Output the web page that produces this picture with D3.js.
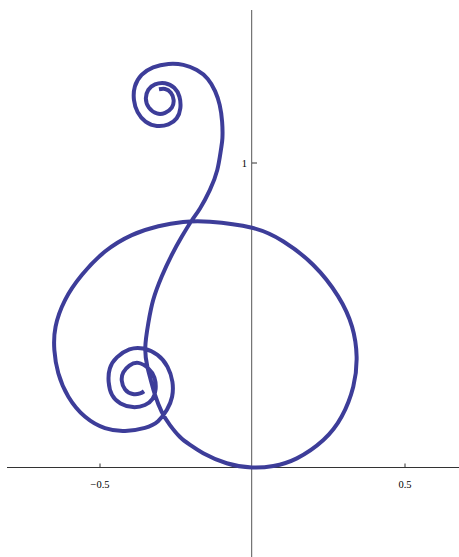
<!DOCTYPE html>
<html>
<head>
<meta charset="utf-8">
<script src="https://cdn.jsdelivr.net/npm/d3@7"></script>
<style>
  body { margin: 0; background: #fff; }
  svg { display: block; }
  .tick text { font-family: "Liberation Serif", "Times New Roman", serif; font-size: 10.5px; fill: #000; }
</style>
</head>
<body>
<script>
// curve, data units, in drawing order
const upperSpiral = [
  [-0.305, 1.240], [-0.285, 1.241], [-0.266, 1.229], [-0.257, 1.205], [-0.263, 1.180],
  [-0.285, 1.163], [-0.312, 1.161], [-0.338, 1.180], [-0.348, 1.210], [-0.340, 1.238],
  [-0.318, 1.256], [-0.285, 1.260], [-0.255, 1.245], [-0.238, 1.216], [-0.235, 1.178],
  [-0.247, 1.145], [-0.274, 1.125], [-0.312, 1.120], [-0.349, 1.134], [-0.375, 1.165],
  [-0.387, 1.205], [-0.384, 1.249], [-0.362, 1.287], [-0.324, 1.312], [-0.274, 1.323],
  [-0.225, 1.320], [-0.181, 1.303], [-0.145, 1.274], [-0.121, 1.234], [-0.106, 1.189],
  [-0.098, 1.134], [-0.097, 1.080],
]
const stem = [
  [-0.102, 1.041], [-0.114, 0.975], [-0.138, 0.910], [-0.170, 0.850], [-0.198, 0.809],
  [-0.230, 0.757], [-0.263, 0.697], [-0.296, 0.626], [-0.324, 0.549], [-0.340, 0.473],
  [-0.350, 0.392], [-0.343, 0.330], [-0.332, 0.287], [-0.318, 0.238], [-0.296, 0.182],
  [-0.269, 0.139], [-0.236, 0.100], [-0.203, 0.074], [-0.160, 0.047], [-0.083, 0.014],
  [0, 0],
]
const bigLoop = [
  [0.070, 0.005], [0.147, 0.030], [0.234, 0.090], [0.294, 0.167], [0.332, 0.265],
  [0.343, 0.363], [0.328, 0.462], [0.282, 0.562], [0.201, 0.664], [0.103, 0.741],
  [0, 0.786], [-0.138, 0.806], [-0.226, 0.805], [-0.307, 0.791], [-0.394, 0.762],
  [-0.482, 0.708], [-0.558, 0.631], [-0.613, 0.549], [-0.644, 0.462], [-0.648, 0.385],
  [-0.635, 0.309], [-0.602, 0.232], [-0.548, 0.167], [-0.482, 0.129], [-0.416, 0.120],
]
const lowerSpiral = [
  [-0.351, 0.130], [-0.308, 0.152], [-0.279, 0.189], [-0.262, 0.232], [-0.261, 0.281],
  [-0.277, 0.330], [-0.310, 0.369], [-0.357, 0.390], [-0.402, 0.387], [-0.443, 0.361],
  [-0.466, 0.325], [-0.470, 0.281], [-0.459, 0.238], [-0.431, 0.210], [-0.390, 0.198],
  [-0.351, 0.205], [-0.326, 0.225], [-0.316, 0.257], [-0.320, 0.295], [-0.340, 0.325],
  [-0.373, 0.343], [-0.402, 0.334], [-0.422, 0.312], [-0.427, 0.285], [-0.416, 0.256],
  [-0.391, 0.241], [-0.367, 0.243], [-0.354, 0.250],
]
const xTicks = [-0.5, 0.5]
const yTicks = [1]

const width = 459
const height = 557

const x = d3.scaleLinear().domain([-0.5, 0.5]).range([99.5, 404.5])
const y = d3.scaleLinear().domain([0, 1]).range([467.5, 162.5])

const svg = d3
  .select('body')
  .append('svg')
  .attr('width', width)
  .attr('height', height)

// axes through the origin, ticks pointing inwards like Mathematica
const xAxis = g =>
  g
    .attr('transform', `translate(0,${y(0)})`)
    .call(
      d3
        .axisTop(x)
        .tickValues(xTicks)
        .tickSize(4)
        .tickFormat(d3.format('.1f')),
    )
    .call(g => g.select('.domain').remove())
    .call(g => g.selectAll('.tick text').attr('y', 20).attr('dy', 0))

const yAxis = g =>
  g
    .attr('transform', `translate(${x(0)},0)`)
    .call(
      d3
        .axisLeft(y)
        .tickValues(yTicks)
        .tickSize(-5)
        .tickFormat(d3.format('d')),
    )
    .call(g => g.select('.domain').remove())
    .call(g => g.selectAll('.tick text').attr('x', -5).attr('dy', '0.35em'))

svg
  .append('line')
  .attr('x1', 7)
  .attr('x2', width)
  .attr('y1', y(0))
  .attr('y2', y(0))
  .attr('stroke', '#333')

svg
  .append('line')
  .attr('x1', x(0) - 0.3)
  .attr('x2', x(0) - 0.3)
  .attr('y1', 10)
  .attr('y2', height)
  .attr('stroke', '#555')

svg.append('g').call(xAxis)
svg.append('g').call(yAxis)
svg.selectAll('.tick line').attr('stroke', '#333')

const points = [...upperSpiral, ...stem, ...bigLoop, ...lowerSpiral]

// natural spline keeps the hand-read points on a smooth track
const line = d3
  .line()
  .x(d => x(d[0]))
  .y(d => y(d[1]))
  .curve(d3.curveNatural)

svg
  .append('path')
  .datum(points)
  .attr('d', line)
  .attr('fill', 'none')
  .attr('stroke', '#3d3d99')
  .attr('stroke-width', 4)
</script>
</body>
</html>
